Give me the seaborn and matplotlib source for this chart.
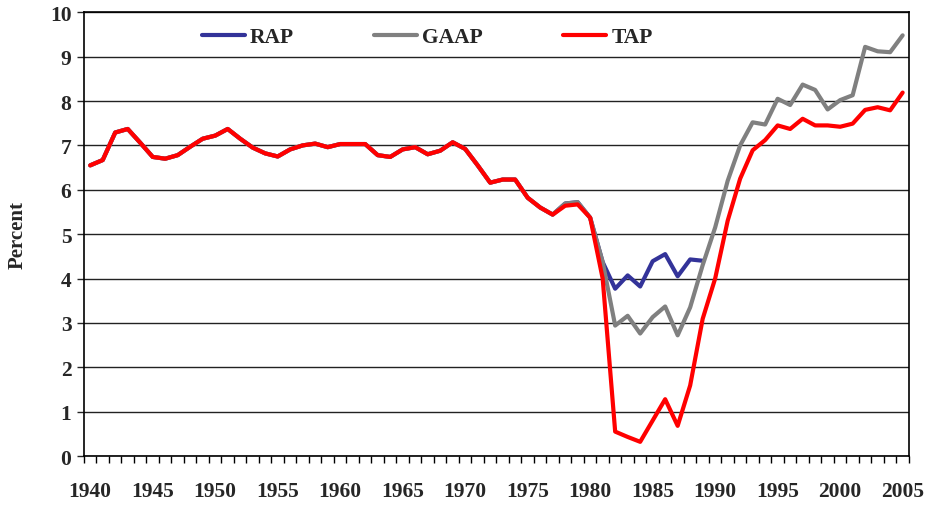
import numpy as np
import pandas as pd
import matplotlib
matplotlib.use("Agg")
import matplotlib.pyplot as plt
import seaborn as sns
from matplotlib.ticker import MultipleLocator, FixedLocator

# ---- data ----
years = list(range(1940, 2006))

tap = [6.55, 6.67, 7.29, 7.37, 7.06, 6.74, 6.70, 6.78, 6.97, 7.15,
       7.22, 7.37, 7.15, 6.95, 6.82, 6.75, 6.91, 7.00, 7.04, 6.96,
       7.03, 7.03, 7.03, 6.78, 6.74, 6.91, 6.96, 6.80, 6.88, 7.07,
       6.92, 6.55, 6.16, 6.23, 6.23, 5.82, 5.60, 5.44, 5.64, 5.67,
       5.37, 4.00, 0.55, 0.43, 0.32, 0.80, 1.28, 0.68, 1.59, 3.09,
       4.00, 5.30, 6.25, 6.89, 7.12, 7.45, 7.37, 7.60, 7.45, 7.45,
       7.42, 7.49, 7.80, 7.86, 7.79, 8.19]

# GAAP and RAP follow TAP up to 1977
gaap = tap[:38] + [5.69, 5.72,
                   5.37, 4.37, 2.94, 3.16, 2.76, 3.13, 3.37, 2.72, 3.35, 4.30,
                   5.15, 6.20, 7.00, 7.52, 7.47, 8.05, 7.91, 8.37, 8.25, 7.81,
                   8.02, 8.13, 9.22, 9.12, 9.10, 9.48]

# RAP equals GAAP up to 1981, then runs on its own to 1989
rap = gaap[:42] + [3.77, 4.07, 3.82, 4.39, 4.55, 4.05, 4.43, 4.40]

series_names = ["RAP", "GAAP", "TAP"]
series_colors = ["#333399", "#808080", "#FF0000"]
x_labels = list(range(1940, 2006, 5))

# long-form table for seaborn
frames = []
for name, vals in zip(series_names, [rap, gaap, tap]):
    frames.append(pd.DataFrame({"year": years[:len(vals)], "value": vals, "series": name}))
df = pd.concat(frames, ignore_index=True)

sns.set_style("ticks")
plt.rcParams["font.family"] = ["Liberation Serif", "DejaVu Serif"]
plt.rcParams["font.weight"] = "bold"

fig = plt.figure(figsize=(9.3, 5.06), dpi=100)
ax = fig.add_axes([0.0903, 0.0968, 0.887, 0.877])

sns.lineplot(data=df, x="year", y="value", hue="series", hue_order=series_names,
             palette=dict(zip(series_names, series_colors)), linewidth=3,
             solid_joinstyle="round", solid_capstyle="round", ax=ax)

# axes / grid
ax.set_xlim(1939.5, 2005.5)
ax.set_ylim(0, 10)
ax.yaxis.set_major_locator(MultipleLocator(1))
ax.set_axisbelow(True)
ax.grid(axis="y", color="#222222", linewidth=1.0)
ax.xaxis.set_major_locator(FixedLocator(x_labels))
ax.xaxis.set_minor_locator(FixedLocator(np.arange(1939.5, 2006, 1)))
ax.tick_params(axis="x", which="major", length=0, labelsize=15.5, pad=18)
ax.tick_params(axis="x", which="minor", length=5, width=1, color="black")
ax.tick_params(axis="y", length=5, width=1, labelsize=15.5, pad=4)
for lbl in ax.get_xticklabels() + ax.get_yticklabels():
    lbl.set_fontweight("bold")
for sp in ax.spines.values():
    sp.set_visible(True)
    sp.set_color("black")
    sp.set_linewidth(1.2)

ax.set_xlabel("")
ax.set_ylabel("Percent", fontsize=15, fontweight="bold", labelpad=16)

handles, labels = ax.get_legend_handles_labels()
ax.legend(handles, labels, loc="center", bbox_to_anchor=(0.416, 0.944), ncol=3,
          frameon=False, handlelength=2.0, handletextpad=0.25, columnspacing=3.7,
          prop={"size": 15.5, "weight": "bold"})

fig.savefig("out.png", dpi=100)
